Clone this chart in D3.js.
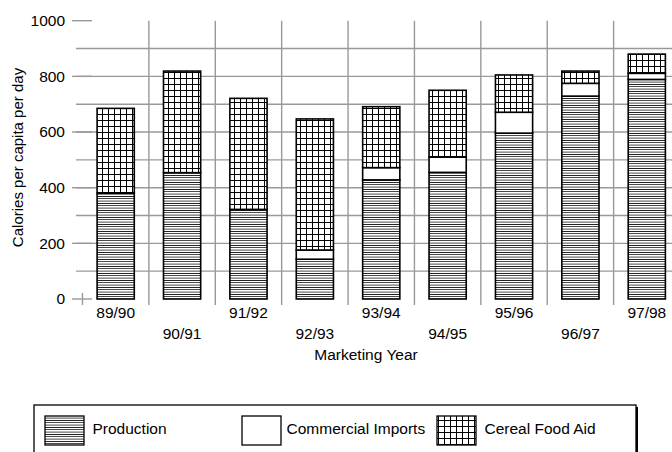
<!DOCTYPE html>
<html>
<head>
<meta charset="utf-8">
<script src="https://cdn.jsdelivr.net/npm/d3@7"></script>
<style>
  body { margin: 0; background: #fff; }
  text { font-family: "Liberation Sans", Arial, sans-serif; fill: #000; }
</style>
</head>
<body>
<div id="chart"></div>
<script>
// data
var years = ["89/90", "90/91", "91/92", "92/93", "93/94", "94/95", "95/96", "96/97", "97/98"];
var production = [380, 454, 322, 143, 428, 455, 596, 729, 789];
var imports = [0, 0, 0, 33, 44, 55, 75, 46, 22];
var foodAid = [305, 365, 399, 471, 219, 240, 134, 44, 69];
var yTicks = [0, 200, 400, 600, 800, 1000];
var yGrid = [100, 200, 300, 400, 500, 600, 700, 800, 900];
var seriesNames = ["Production", "Commercial Imports", "Cereal Food Aid"];

var width = 672, height = 452;
var gridColor = "#999";

var svg = d3.select("#chart")
    .append("svg")
    .attr("width", width)
    .attr("height", height);

//patterns
var defs = svg.append("defs");
var hatch = defs.append("pattern")
    .attr("id", "hLines")
    .attr("patternUnits", "userSpaceOnUse")
    .attr("width", 8)
    .attr("height", 7 / 3);
hatch.append("rect").attr("width", 8).attr("height", 7 / 3).attr("fill", "#fff");
hatch.append("rect").attr("width", 8).attr("height", 1.1).attr("fill", "#000")
    .attr("shape-rendering", "crispEdges");

var grid = defs.append("pattern")
    .attr("id", "cross")
    .attr("patternUnits", "userSpaceOnUse")
    .attr("width", 6)
    .attr("height", 6);
grid.append("rect").attr("width", 6).attr("height", 6).attr("fill", "#fff");
grid.append("rect").attr("width", 1).attr("height", 6).attr("fill", "#000");
grid.append("rect").attr("width", 6).attr("height", 1).attr("fill", "#000");

var fills = ["url(#hLines)", "#fff", "url(#cross)"];

//scales
var xScale = d3.scaleBand()
    .domain(years)
    .range([82.5, 680])
    .paddingInner(0.44)
    .paddingOuter(0.22);
var yScale = d3.scaleLinear()
    .domain([0, 1000])
    .range([299, 20.7]);

var step = xScale.step();
var gap = step * xScale.paddingInner() / 2;

//horizontal grid
svg.append("g").selectAll("line")
    .data(yGrid)
    .enter().append("line")
    .attr("x1", 76).attr("x2", width)
    .attr("y1", function (d) { return yScale(d); })
    .attr("y2", function (d) { return yScale(d); })
    .attr("stroke", gridColor)
    .attr("stroke-width", 1.4);

//y ticks + labels
var yAxis = svg.append("g");
yAxis.selectAll("line")
    .data(yTicks)
    .enter().append("line")
    .attr("x1", 72).attr("x2", 92)
    .attr("y1", function (d) { return yScale(d); })
    .attr("y2", function (d) { return yScale(d); })
    .attr("stroke", gridColor)
    .attr("stroke-width", 1.4);
yAxis.selectAll("text")
    .data(yTicks)
    .enter().append("text")
    .attr("x", 65)
    .attr("y", function (d) { return yScale(d); })
    .attr("dy", "0.35em")
    .attr("text-anchor", "end")
    .attr("font-size", "15.5px")
    .text(function (d) { return d; });

//vertical grid at band boundaries
var bounds = years.map(function (d) { return xScale(d) - gap; });
svg.append("g").selectAll("line")
    .data(bounds)
    .enter().append("line")
    .attr("x1", function (d) { return d; })
    .attr("x2", function (d) { return d; })
    .attr("y1", function (d, i) { return i === 0 ? yScale(0) - 6 : yScale(1000); })
    .attr("y2", yScale(0) + 6)
    .attr("stroke", gridColor)
    .attr("stroke-width", 1.4);

//stacked bars
var rows = years.map(function (d, i) {
    return { year: d, values: [production[i], imports[i], foodAid[i]] };
});
var bars = svg.append("g").selectAll("g")
    .data(rows)
    .enter().append("g");
bars.each(function (row) {
    var g = d3.select(this);
    var base = 0;
    row.values.forEach(function (v, k) {
        g.append("rect")
            .attr("x", xScale(row.year))
            .attr("width", xScale.bandwidth())
            .attr("y", yScale(base + v))
            .attr("height", yScale(base) - yScale(base + v))
            .attr("fill", fills[k])
            .attr("stroke", "#000")
            .attr("stroke-width", 1.6);
        base += v;
    });
});

//x labels, alternating rows
svg.append("g").selectAll("text")
    .data(years)
    .enter().append("text")
    .attr("x", function (d) { return xScale(d) + xScale.bandwidth() / 2; })
    .attr("y", function (d, i) { return i % 2 === 0 ? 318 : 338.5; })
    .attr("text-anchor", "middle")
    .attr("font-size", "15.5px")
    .text(function (d) { return d; });

svg.append("text")
    .attr("x", 366)
    .attr("y", 360)
    .attr("text-anchor", "middle")
    .attr("font-size", "15.5px")
    .text("Marketing Year");

svg.append("text")
    .attr("transform", "translate(22.5,157.5) rotate(-90)")
    .attr("text-anchor", "middle")
    .attr("font-size", "15px")
    .text("Calories per capita per day");

//legend
var legend = svg.append("g");
legend.append("rect")
    .attr("x", 36).attr("y", 407)
    .attr("width", 602).attr("height", 60)
    .attr("fill", "#000");
legend.append("rect")
    .attr("x", 34).attr("y", 405)
    .attr("width", 602).attr("height", 60)
    .attr("fill", "#fff")
    .attr("stroke", "#000")
    .attr("stroke-width", 1.3);

var swatchX = [45, 242, 437];
var labelX = [92.5, 286.5, 484.5];
seriesNames.forEach(function (name, k) {
    legend.append("rect")
        .attr("x", swatchX[k]).attr("y", 416)
        .attr("width", 39).attr("height", 29)
        .attr("fill", fills[k])
        .attr("stroke", "#000")
        .attr("stroke-width", 1.3);
    legend.append("text")
        .attr("x", labelX[k])
        .attr("y", 433.5)
        .attr("font-size", "15.5px")
        .text(name);
});
</script>
</body>
</html>
